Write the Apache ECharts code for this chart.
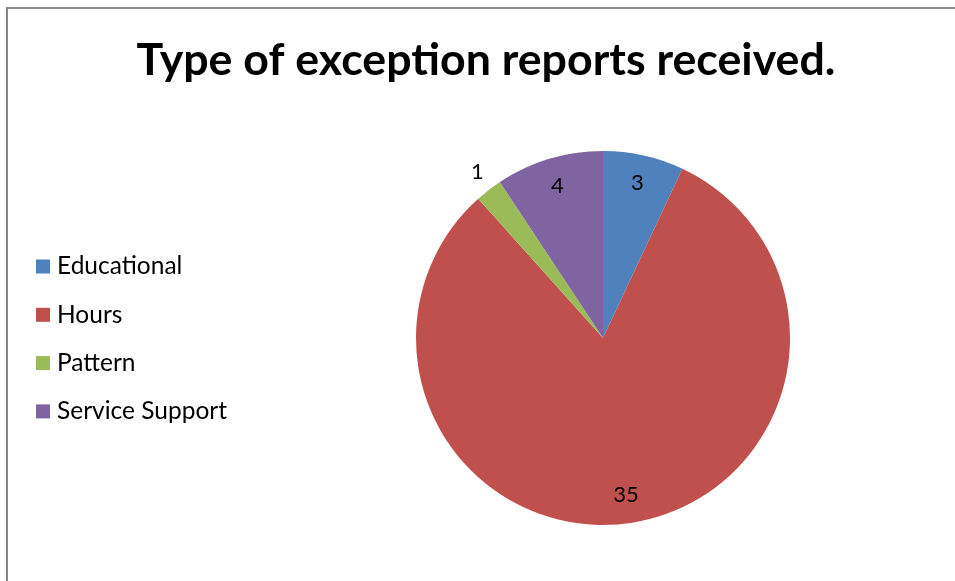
<!DOCTYPE html>
<html>
<head>
<meta charset="utf-8">
<script src="https://cdn.jsdelivr.net/npm/echarts@6/dist/echarts.min.js"></script>
<style>
  html, body { margin: 0; padding: 0; background: #fff; }
  #chart { width: 955px; height: 581px; }
</style>
</head>
<body>
<div id="chart"></div>
<script>
const categories = ['Educational', 'Hours', 'Pattern', 'Service Support'];
const counts = [3, 35, 1, 4];
const colors = ['#4F81BD', '#C0504D', '#9BBB59', '#8064A2'];

const FONT = 'Lato, "Open Sans", sans-serif';
const center = [603, 338];
const R = 187;

const pieData = categories.map((name, i) => ({
  name, value: counts[i], itemStyle: { color: colors[i] }
}));

// label ring: same slices, transparent, so inside labels sit near the rim
const total = counts.reduce((a, b) => a + b, 0);
const isSmall = v => v / total < 0.04;
const labelData = categories.map((name, i) => ({
  name, value: counts[i],
  itemStyle: { color: 'rgba(0,0,0,0)' },
  label: isSmall(counts[i]) ? { position: 'outside' } : { position: 'inside' }
}));

const chart = echarts.init(document.getElementById('chart'));
chart.setOption({
  animation: false,
  graphic: [{
    type: 'rect',
    shape: { x: 7, y: 8, width: 1000, height: 1000 },
    style: { fill: 'none', stroke: '#878787', lineWidth: 2 },
    silent: true
  }],
  title: {
    text: 'Type of exception reports received.',
    left: 481, top: 33, textAlign: 'center',
    textStyle: { fontFamily: FONT, fontWeight: 'bold', fontSize: 44.7, color: '#000' }
  },
  legend: {
    orient: 'vertical',
    left: 36, top: 254,
    padding: 0,
    icon: 'rect',
    itemWidth: 14, itemHeight: 14, itemGap: 23.3,
    data: categories,
    textStyle: { fontFamily: FONT, fontSize: 24.5, color: '#000', padding: [0, 0, 0, 2] }
  },
  series: [{
    type: 'pie',
    center, radius: R,
    startAngle: 90, clockwise: true,
    label: { show: false }, labelLine: { show: false },
    emphasis: { disabled: true },
    data: pieData
  }, {
    type: 'pie',
    center, radius: [124, R],
    startAngle: 90, clockwise: true,
    silent: true, legendHoverLink: false,
    label: { show: true, fontFamily: FONT, fontSize: 22, color: '#000', formatter: '{c}', distanceToLabelLine: 0 },
    labelLine: { show: false, length: 23, length2: 0 },
    labelLayout: p => isSmall(counts[p.dataIndex]) ? { dx: 9 } : {},
    emphasis: { disabled: true },
    data: labelData
  }]
});
</script>
</body>
</html>
